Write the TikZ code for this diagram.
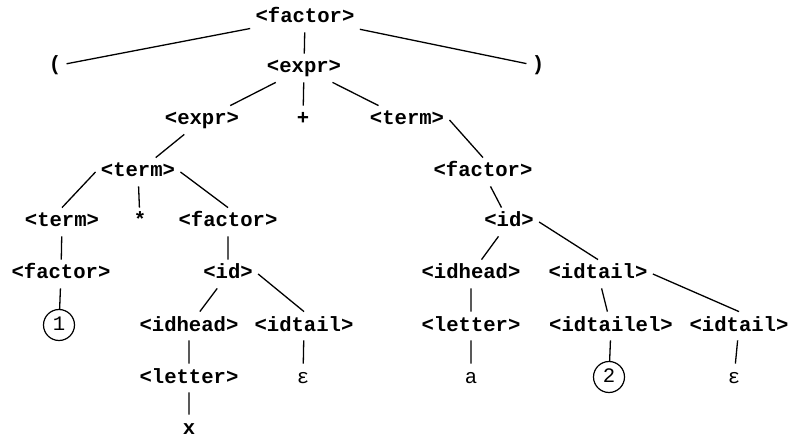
\documentclass[tikz,border=0pt]{standalone}
\usepackage{fontspec}
\setmonofont{Liberation Mono}

\tikzset{
    sym/.style={font=\ttfamily\bfseries\fontsize{10.3}{12}\selectfont,
        text height=6pt, text depth=1pt, inner ysep=3.5pt, inner xsep=2.5pt},
    lit/.style={sym, font=\ttfamily\fontsize{10.3}{12}\selectfont},
    ring/.style={lit, draw, circle, line width=0.6pt, minimum size=15.5pt, inner sep=0pt},
    branch/.style={line width=0.65pt}
}

\begin{document}
\begin{tikzpicture}[x=0.5pt, y=-0.5pt]

\useasboundingbox (0,0) rectangle (790,437);

% root and first level
\node[sym] (fac0) at (305,18) {<factor>};
\node[sym] (lpar) at (55,66) {(};
\node[sym] (rpar) at (538,66) {)};
\node[sym] (expr1) at (304,68) {<expr>};

% <expr> + <term>
\node[sym] (expr2) at (202,120) {<expr>};
\node[sym] (plus) at (303,120) {+};
\node[sym] (term2) at (407,120) {<term>};

\node[sym] (term3) at (138,172) {<term>};
\node[sym] (fac3) at (483,172) {<factor>};

\node[sym] (term4) at (62,222) {<term>};
\node[sym] (star) at (140,222) {*};
\node[sym] (fac4) at (228,222) {<factor>};
\node[sym] (idR) at (509,222) {<id>};

\node[sym] (fac5) at (61,274) {<factor>};
\node[sym] (idL) at (228,274) {<id>};
\node[sym] (headR) at (471,274) {<idhead>};
\node[sym] (tailR) at (598,274) {<idtail>};

% third row from the bottom
\node[ring] (one) at (59,325) {1};
\node[sym] (headL) at (189,326) {<idhead>};
\node[sym] (tailL) at (304,326) {<idtail>};
\node[sym] (letR) at (471,326) {<letter>};
\node[sym] (tailel) at (611,326) {<idtailel>};
\node[sym] (tailR2) at (739,326) {<idtail>};

\node[sym] (letL) at (189,378) {<letter>};
\node[lit] (epsL) at (303,378) {ε};
\node[lit] (a) at (471,378) {a};
\node[ring] (two) at (609,377) {2};
\node[lit] (epsR) at (734,378) {ε};

\node[sym] (x) at (189,429) {x};

\draw[branch]
    (fac0) -- (lpar)
    (fac0) -- (rpar)
    (fac0) -- (expr1)
    (expr1) -- (expr2)
    (expr1) -- (plus)
    (expr1) -- (term2)
    (term2.east) -- (fac3.north)
    (expr2) -- (term3)
    (term3.west) -- (term4.north)
    (term3) -- (star)
    (term3.east) -- (fac4.north)
    (term4) -- (fac5)
    (fac5) -- (one)
    (fac4) -- (idL)
    (idL) -- (headL)
    (idL.east) -- (tailL.north)
    (headL) -- (letL)
    (letL) -- (x)
    (tailL) -- (epsL)
    (fac3) -- (idR)
    (idR) -- (headR)
    (idR.east) -- (tailR.north)
    (headR) -- (letR)
    (letR) -- (a)
    (tailR) -- (tailel)
    (tailR.east) -- (tailR2.north)
    (tailel) -- (two)
    (tailR2) -- (epsR);

\end{tikzpicture}
\end{document}
